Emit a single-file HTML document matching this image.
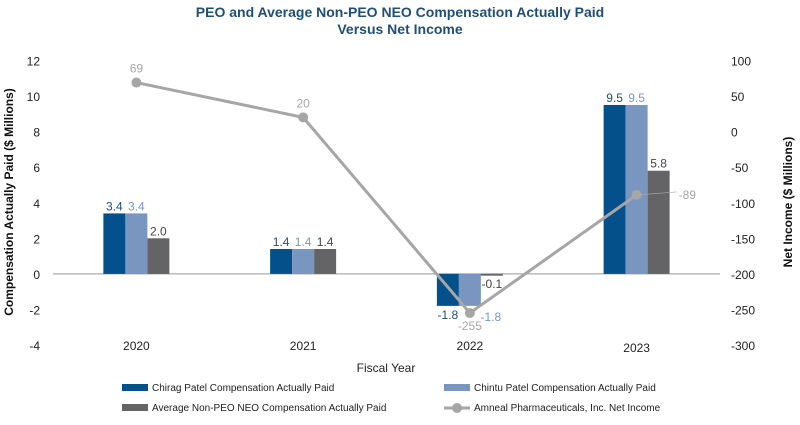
<!DOCTYPE html>
<html><head><meta charset="utf-8"><style>
body{margin:0;background:#fff;font-family:"Liberation Sans",sans-serif}
</style></head><body>
<svg width="800" height="420" font-family="Liberation Sans, sans-serif">
<text x="400" y="17" text-anchor="middle" font-size="14" font-weight="bold" fill="#1f4e79">PEO and Average Non-PEO NEO Compensation Actually Paid</text>
<text x="400" y="34" text-anchor="middle" font-size="14" font-weight="bold" fill="#1f4e79">Versus Net Income</text>
<g id="plot"></g>
<text transform="translate(13,202) rotate(-90)" text-anchor="middle" font-size="12" font-weight="bold" fill="#111">Compensation Actually Paid ($ Millions)</text>
<text transform="translate(792,202) rotate(-90)" text-anchor="middle" font-size="12" font-weight="bold" fill="#111">Net Income ($ Millions)</text>
<text x="386" y="372" text-anchor="middle" font-size="12" fill="#222">Fiscal Year</text>
<g font-size="10" fill="#222">
<rect x="122" y="384" width="26" height="7" fill="#03508a"/>
<text x="152" y="391">Chirag Patel Compensation Actually Paid</text>
<rect x="122" y="404" width="26" height="7" fill="#646466"/>
<text x="152" y="411">Average Non-PEO NEO Compensation Actually Paid</text>
<rect x="444" y="384" width="26" height="7" fill="#7896c0"/>
<text x="474" y="391">Chintu Patel Compensation Actually Paid</text>
<line x1="444" y1="408" x2="470" y2="408" stroke="#a6a6a6" stroke-width="3"/>
<circle cx="457" cy="408" r="5" fill="#a6a6a6"/>
<text x="474" y="411">Amneal Pharmaceuticals, Inc. Net Income</text>
</g>
</svg>
<script>
const categories=["2020","2021","2022","2023"];
const chirag=[3.4,1.4,-1.8,9.5];
const chintu=[3.4,1.4,-1.8,9.5];
const avgNeo=[2.0,1.4,-0.1,5.8];
const netIncome=[69,20,-255,-89];
const leftTicks=[12,10,8,6,4,2,0,-2,-4];
const rightTicks=[100,50,0,-50,-100,-150,-200,-250,-300];
const ns="http://www.w3.org/2000/svg";
const g=document.getElementById('plot');
const x0=53,x1=720,yTop=60.5,yBot=345;
const yL=v=>yBot-(v+4)/16*(yBot-yTop);
const yR=v=>yBot-(v+300)/400*(yBot-yTop);
const band=(x1-x0)/categories.length;
const xc=i=>x0+band*(i+0.5);
function el(t,a){const e=document.createElementNS(ns,t);for(const k in a)e.setAttribute(k,a[k]);g.appendChild(e);return e;}
leftTicks.forEach(v=>{const t=el('text',{x:40,y:yL(v)+5,'text-anchor':'end','font-size':12,fill:'#222'});t.textContent=v;

});
rightTicks.forEach(v=>{const t=el('text',{x:731,y:yR(v)+5,'font-size':12,fill:'#222'});t.textContent=v;

});
const zl=el('line',{x1:x0,x2:x1,y1:yL(0),y2:yL(0),stroke:'#999','stroke-width':1});


categories.forEach((c,i)=>{const t=el('text',{x:xc(i),y:i==3?352:350,'text-anchor':'middle','font-size':12,fill:'#222'});t.textContent=c;

});
const series=[[chirag,'#03508a','#1f4e79','chirag'],[chintu,'#7896c0','#7896c0','chintu'],[avgNeo,'#646466','#444','average']];
const bw=22;
series.forEach(([d,col,lc,nm],s)=>{d.forEach((v,i)=>{
 const x=xc(i)-33+s*bw,y0=yL(0),y=yL(v);
 const r=el('rect',{x:x,y:Math.min(y,y0),width:bw,height:Math.max(Math.abs(y0-y),1.5),fill:col});
 
 
 let ty=v>=0?y-3:y+13, tx=x+bw/2;
 if(i==2&&s==1){tx=x+bw+10;ty=y+15;}
 if(i==2&&s==2){ty=y0+14;}
 const t=el('text',{x:tx,y:ty,'text-anchor':'middle','font-size':12,fill:lc});t.textContent=v.toFixed(1);
 
 
});});
const pts=netIncome.map((v,i)=>xc(i)+','+yR(v)).join(' ');
const pl=el('polyline',{points:pts,fill:'none',stroke:'#a6a6a6','stroke-width':3});


netIncome.forEach((v,i)=>{const c=el('circle',{cx:xc(i),cy:yR(v),r:5,fill:'#a6a6a6'});
 
 
 let tx=xc(i),ty=yR(v)-10,anc='middle';
 if(i==2){ty=yR(v)+17;}
 if(i==3){tx=xc(i)+42;ty=yR(v)+4;anc='start';el('line',{x1:xc(i),y1:yR(v),x2:xc(i)+40,y2:yR(v)-3,stroke:'#aaa','stroke-width':0.7});}
 const t=el('text',{x:tx,y:ty,'text-anchor':anc,'font-size':12,fill:'#a6a6a6'});t.textContent=v;
 
 
});
</script>
</body></html>
